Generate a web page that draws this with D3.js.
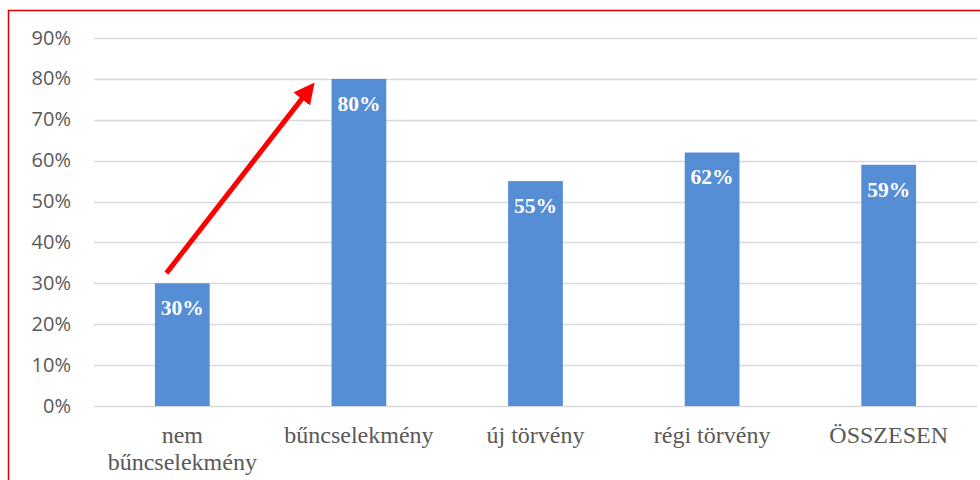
<!DOCTYPE html>
<html>
<head>
    <meta charset="utf-8">
    <title>bar chart</title>
    <style>
        body { margin: 0; background: #fff; }
    </style>
</head>
<body>
<script src="https://d3js.org/d3.v7.min.js"></script>
<script>

    var categories = [['nem', 'bűncselekmény'], ['bűncselekmény'], ['új törvény'], ['régi törvény'], ['ÖSSZESEN']];
    var values = [0.30, 0.80, 0.55, 0.62, 0.59];
    var ticks = [0, 0.1, 0.2, 0.3, 0.4, 0.5, 0.6, 0.7, 0.8, 0.9];
    // arrow from first bar up to the second, in data terms
    var arrowFrom = {cat: 0, offset: -0.09, value: 0.325};
    var arrowTo = {cat: 0, offset: 0.72, value: 0.775};

    var width = 980,
        height = 480,
        margin = {top: 38, right: 3, bottom: 74, left: 94};

    var svg = d3.select('body').append('svg')
        .attr('width', width)
        .attr('height', height);

    // red frame, running off the right and bottom edge
    svg.append('rect')
        .attr('x', 8.5).attr('y', 10.5)
        .attr('width', width).attr('height', height)
        .attr('fill', 'none')
        .attr('stroke', '#e00000')
        .attr('stroke-width', 1.5);

    var x = d3.scaleBand()
        .domain(d3.range(categories.length))
        .range([margin.left, width - margin.right])
        .paddingInner(0.69)
        .paddingOuter(0.345);

    var y = d3.scaleLinear()
        .domain([0, 0.9])
        .range([height - margin.bottom, margin.top]);

    // gridlines
    svg.append('g').selectAll('line')
        .data(ticks)
        .enter().append('line')
        .attr('x1', margin.left)
        .attr('x2', width - margin.right)
        .attr('y1', function (d) { return Math.round(y(d)) + 0.5; })
        .attr('y2', function (d) { return Math.round(y(d)) + 0.5; })
        .attr('stroke', '#d9d9d9')
        .attr('stroke-width', 1.5);

    // y axis labels
    svg.append('g').selectAll('text')
        .data(ticks)
        .enter().append('text')
        .attr('x', 71)
        .attr('y', function (d) { return y(d) + 6.5; })
        .attr('text-anchor', 'end')
        .attr('font-family', 'Open Sans, sans-serif')
        .attr('font-size', 20)
        .attr('fill', '#595959')
        .text(d3.format('.0%'));

    // bars
    svg.append('g').selectAll('rect')
        .data(values)
        .enter().append('rect')
        .attr('x', function (d, i) { return x(i); })
        .attr('y', function (d) { return y(d); })
        .attr('width', x.bandwidth())
        .attr('height', function (d) { return y(0) - y(d); })
        .attr('fill', '#558ed5');

    // value labels
    svg.append('g').selectAll('text')
        .data(values)
        .enter().append('text')
        .attr('x', function (d, i) { return x(i) + x.bandwidth() / 2; })
        .attr('y', function (d) { return y(d) + 32; })
        .attr('text-anchor', 'middle')
        .attr('font-family', 'Liberation Serif, serif')
        .attr('font-weight', 'bold')
        .attr('font-size', 21.5)
        .attr('fill', '#fff')
        .text(d3.format('.0%'));

    // category labels
    var cat = svg.append('g').selectAll('text')
        .data(categories)
        .enter().append('text')
        .attr('x', function (d, i) { return x(i) + x.bandwidth() / 2; })
        .attr('y', 443)
        .attr('text-anchor', 'middle')
        .attr('font-family', 'Liberation Serif, serif')
        .attr('font-size', 24)
        .attr('fill', '#595959');

    cat.selectAll('tspan')
        .data(function (d) { return d; })
        .enter().append('tspan')
        .attr('x', function () { return d3.select(this.parentNode).attr('x'); })
        .attr('dy', function (d, i) { return i ? 27 : 0; })
        .text(function (d) { return d; });

    // red arrow
    svg.append('defs').append('marker')
        .attr('id', 'head')
        .attr('viewBox', '0 0 10 10')
        .attr('refX', 6).attr('refY', 5)
        .attr('markerWidth', 4.2).attr('markerHeight', 4.2)
        .attr('orient', 'auto')
        .append('path')
        .attr('d', 'M0,0 L10,5 L0,10 z')
        .attr('fill', '#ff0000');

    function ax(p) { return x(p.cat) + x.bandwidth() / 2 + p.offset * x.step(); }

    svg.append('line')
        .attr('x1', ax(arrowFrom))
        .attr('y1', y(arrowFrom.value))
        .attr('x2', ax(arrowTo))
        .attr('y2', y(arrowTo.value))
        .attr('stroke', '#ff0000')
        .attr('stroke-width', 5)
        .attr('marker-end', 'url(#head)');

</script>
</body>
</html>
